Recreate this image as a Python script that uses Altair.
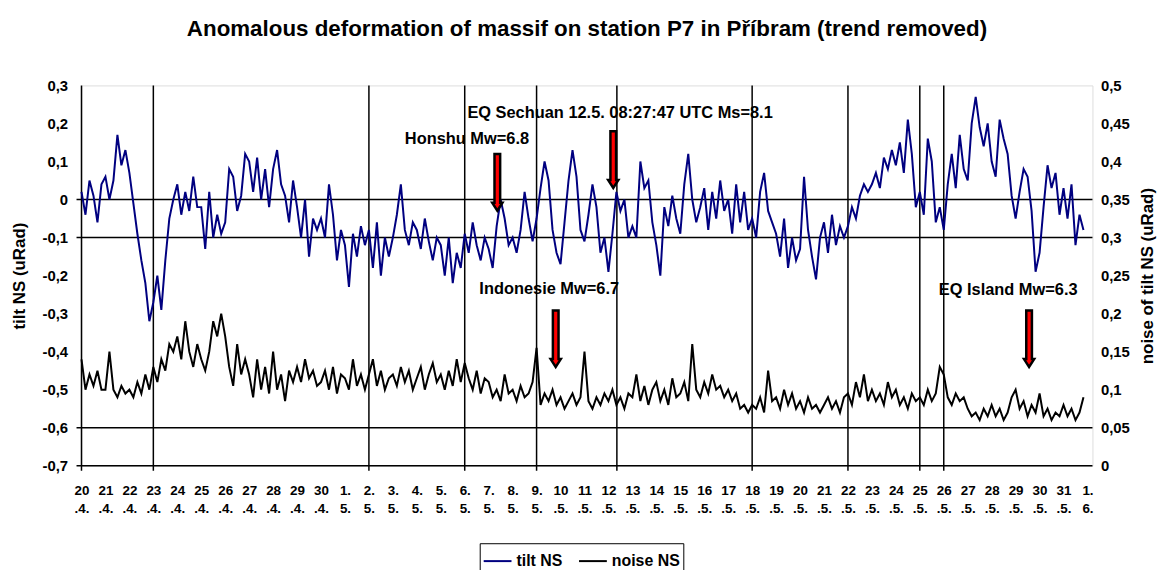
import altair as alt
import pandas as pd

FONT = "Liberation Sans"
TITLE = "Anomalous deformation of massif on station P7 in Příbram (trend removed)"
START = "2008-04-20 00:00:00"   # first sample, one sample every 4 hours
STEP = "4h"

# tilt NS (uRad), six readings per day, 20.4. .. 31.5.
TILT_NS = [
    0.02, -0.04, 0.05, 0.01, -0.06, 0.04,      # 20.4
    0.06, 0.00, 0.05, 0.17, 0.09, 0.13,        # 21.4
    0.07, -0.01, -0.09, -0.16, -0.22, -0.32,   # 22.4
    -0.27, -0.20, -0.29, -0.16, -0.05, 0.00,   # 23.4
    0.04, -0.04, 0.02, -0.03, 0.06, -0.02,     # 24.4
    -0.02, -0.13, 0.02, -0.10, -0.04, -0.09,   # 25.4
    -0.06, 0.08, 0.06, -0.03, 0.01, 0.12,      # 26.4
    0.10, 0.02, 0.11, 0.00, 0.08, -0.02,       # 27.4
    0.08, 0.13, 0.04, 0.01, -0.06, 0.05,       # 28.4
    -0.02, -0.10, 0.00, -0.15, -0.05, -0.08,   # 29.4
    -0.05, -0.10, 0.04, -0.04, -0.16, -0.08,   # 30.4
    -0.12, -0.23, -0.09, -0.15, -0.07, -0.12,  # 1.5
    -0.08, -0.18, -0.06, -0.20, -0.10, -0.15,  # 2.5
    -0.10, -0.04, 0.04, -0.08, -0.12, -0.06,   # 3.5
    -0.08, -0.13, -0.05, -0.11, -0.16, -0.10,  # 4.5
    -0.12, -0.20, -0.10, -0.22, -0.14, -0.18,  # 5.5
    -0.09, -0.14, -0.06, -0.12, -0.16, -0.10,  # 6.5
    -0.13, -0.18, -0.07, 0.00, -0.05, -0.12,   # 7.5
    -0.10, -0.14, -0.08, 0.02, -0.05, -0.11,   # 8.5
    -0.05, 0.03, 0.10, 0.05, -0.08, -0.14,     # 9.5
    -0.17, -0.06, 0.05, 0.13, 0.06, -0.08,     # 10.5
    -0.11, -0.04, 0.04, -0.02, -0.14, -0.10,   # 11.5
    -0.19, -0.09, 0.02, -0.03, 0.00, -0.10,    # 12.5
    -0.07, -0.10, 0.10, 0.03, 0.05, -0.06,     # 13.5
    -0.12, -0.20, -0.02, -0.07, 0.01, -0.05,   # 14.5
    -0.09, 0.04, 0.12, 0.00, -0.06, -0.02,     # 15.5
    0.03, -0.08, 0.02, -0.05, 0.05, -0.03,     # 16.5
    0.00, -0.09, 0.04, -0.06, 0.02, -0.08,     # 17.5
    -0.05, -0.10, 0.02, 0.07, -0.03, -0.06,    # 18.5
    -0.09, -0.15, -0.05, -0.18, -0.10, -0.16,  # 19.5
    -0.13, 0.06, -0.08, -0.15, -0.21, -0.10,   # 20.5
    -0.06, -0.14, -0.04, -0.12, -0.07, -0.10,  # 21.5
    -0.07, -0.02, -0.05, 0.01, 0.04, 0.02,     # 22.5
    0.04, 0.07, 0.03, 0.11, 0.08, 0.13,        # 23.5
    0.09, 0.15, 0.07, 0.21, 0.12, -0.02,       # 24.5
    0.02, -0.04, 0.16, 0.10, -0.06, -0.02,     # 25.5
    -0.08, 0.04, 0.12, 0.03, 0.17, 0.08,       # 26.5
    0.05, 0.20, 0.27, 0.19, 0.14, 0.20,        # 27.5
    0.10, 0.06, 0.21, 0.16, 0.12, 0.01,        # 28.5
    -0.05, 0.02, 0.08, 0.06, -0.03, -0.19,     # 29.5
    -0.14, -0.02, 0.09, 0.03, 0.07, -0.04,     # 30.5
    0.03, -0.05, 0.04, -0.12, -0.04, -0.08,    # 31.5
]

# noise of tilt NS (uRad), six readings per day
NOISE_NS = [
    0.14, 0.10, 0.12, 0.105, 0.125, 0.10,      # 20.4
    0.10, 0.15, 0.10, 0.09, 0.105, 0.095,      # 21.4
    0.10, 0.09, 0.11, 0.095, 0.12, 0.10,       # 22.4
    0.13, 0.11, 0.14, 0.125, 0.16, 0.15,       # 23.4
    0.17, 0.14, 0.19, 0.15, 0.13, 0.16,        # 24.4
    0.14, 0.125, 0.15, 0.19, 0.17, 0.20,       # 25.4
    0.17, 0.13, 0.105, 0.16, 0.12, 0.14,       # 26.4
    0.12, 0.09, 0.14, 0.10, 0.13, 0.095,       # 27.4
    0.15, 0.10, 0.12, 0.085, 0.125, 0.11,      # 28.4
    0.13, 0.11, 0.14, 0.115, 0.125, 0.105,     # 29.4
    0.11, 0.125, 0.10, 0.13, 0.095, 0.12,      # 30.4
    0.115, 0.10, 0.14, 0.105, 0.12, 0.10,      # 1.5
    0.12, 0.14, 0.105, 0.125, 0.10, 0.115,     # 2.5
    0.12, 0.105, 0.13, 0.11, 0.125, 0.10,      # 3.5
    0.115, 0.13, 0.10, 0.12, 0.135, 0.11,      # 4.5
    0.12, 0.10, 0.125, 0.105, 0.14, 0.11,      # 5.5
    0.135, 0.115, 0.10, 0.125, 0.095, 0.115,   # 6.5
    0.11, 0.09, 0.10, 0.085, 0.12, 0.095,      # 7.5
    0.10, 0.085, 0.105, 0.09, 0.095, 0.11,     # 8.5
    0.155, 0.08, 0.095, 0.085, 0.10, 0.08,     # 9.5
    0.09, 0.075, 0.085, 0.095, 0.08, 0.09,     # 10.5
    0.15, 0.085, 0.075, 0.09, 0.08, 0.095,     # 11.5
    0.085, 0.10, 0.08, 0.09, 0.075, 0.095,     # 12.5
    0.09, 0.12, 0.085, 0.105, 0.08, 0.10,      # 13.5
    0.11, 0.085, 0.10, 0.08, 0.115, 0.09,      # 14.5
    0.095, 0.11, 0.085, 0.16, 0.10, 0.09,      # 15.5
    0.11, 0.095, 0.12, 0.10, 0.105, 0.09,      # 16.5
    0.10, 0.085, 0.095, 0.075, 0.08, 0.07,     # 17.5
    0.08, 0.075, 0.09, 0.07, 0.125, 0.085,     # 18.5
    0.09, 0.075, 0.10, 0.08, 0.095, 0.075,     # 19.5
    0.085, 0.07, 0.09, 0.075, 0.08, 0.07,      # 20.5
    0.08, 0.09, 0.075, 0.085, 0.07, 0.09,      # 21.5
    0.095, 0.08, 0.11, 0.09, 0.12, 0.085,      # 22.5
    0.10, 0.085, 0.095, 0.08, 0.11, 0.09,      # 23.5
    0.10, 0.08, 0.09, 0.075, 0.095, 0.085,     # 24.5
    0.09, 0.08, 0.10, 0.085, 0.095, 0.13,      # 25.5
    0.12, 0.09, 0.08, 0.095, 0.085, 0.09,      # 26.5
    0.075, 0.065, 0.07, 0.06, 0.075, 0.065,    # 27.5
    0.08, 0.065, 0.075, 0.06, 0.07, 0.09,      # 28.5
    0.10, 0.075, 0.085, 0.065, 0.08, 0.07,     # 29.5
    0.095, 0.065, 0.075, 0.06, 0.07, 0.065,    # 30.5
    0.08, 0.065, 0.075, 0.06, 0.07, 0.09,      # 31.5
]

SERIES = ["tilt NS", "noise NS"]
SERIES_COLORS = ["#000080", "#000000"]

LEFT_TICKS = [0.3, 0.2, 0.1, 0.0, -0.1, -0.2, -0.3, -0.4, -0.5, -0.6, -0.7]
RIGHT_TICKS = [0.5, 0.45, 0.4, 0.35, 0.3, 0.25, 0.2, 0.15, 0.1, 0.05, 0.0]
H_LINES = [0.0, -0.1, -0.6, -0.7]
EVENT_LINES = ["2008-04-20 00:00:00", "2008-04-23 00:00:00", "2008-05-02 00:00:00",
               "2008-05-06 00:00:00", "2008-05-09 00:00:00", "2008-05-12 08:27:47",
               "2008-05-18 00:00:00", "2008-05-22 00:00:00", "2008-05-25 00:00:00",
               "2008-05-26 00:00:00"]

ARROW_TIMES = ["2008-05-07 08:40:00", "2008-05-12 04:50:00", "2008-05-09 19:10:00",
               "2008-05-29 13:30:00"]
ARROW_CENTERS = [0.045, 0.105, -0.366, -0.366]

NOTE_TEXTS = ["EQ Sechuan 12.5. 08:27:47 UTC Ms=8.1", "Honshu Mw=6.8",
              "Indonesie Mw=6.7", "EQ Island Mw=6.3"]
NOTE_TIMES = ["2008-05-06 02:40:00", "2008-05-03 12:00:00", "2008-05-06 14:40:00",
              "2008-05-25 19:00:00"]
NOTE_VALUES = [0.227, 0.159, -0.235, -0.238]

# ---------------------------------------------------------------- tables
FMT = "%Y-%m-%d %H:%M:%S"
times = pd.date_range(START, periods=len(TILT_NS), freq=STEP)
tilt_df = pd.DataFrame({"time": times, "tilt": TILT_NS, "series": SERIES[0]})
noise_df = pd.DataFrame({"time": pd.date_range(START, periods=len(NOISE_NS), freq=STEP),
                         "noise": NOISE_NS, "series": SERIES[1]})
hline_df = pd.DataFrame({"v": H_LINES})
vline_df = pd.DataFrame({"time": pd.to_datetime(EVENT_LINES, format=FMT)})
arrow_df = pd.DataFrame({"time": pd.to_datetime(ARROW_TIMES, format=FMT), "v": ARROW_CENTERS})
note_df = pd.DataFrame({"time": pd.to_datetime(NOTE_TIMES, format=FMT), "v": NOTE_VALUES,
                        "label": NOTE_TEXTS})

W, H = 1018, 383

x_scale = alt.Scale(domain=[alt.DateTime(year=2008, month=4, date=20),
                            alt.DateTime(year=2008, month=6, date=1, hours=5)])
label_str = "(date(datum.value) + '.' + (month(datum.value) + 1) + '.')"
x_axis = alt.Axis(
    title=None, domain=False, ticks=False, grid=False,
    tickCount={"interval": "day", "step": 1},
    labelExpr=f"[substring({label_str}, 0, 2), substring({label_str}, 2)]",
    labelFont=FONT, labelFontSize=13.5, labelFontWeight="bold", labelColor="black",
    labelLineHeight=18, labelPadding=18, labelOverlap=False, labelFlush=False,
    labelBound=False, labelBaseline="top", labelAlign="center",
)


def X(field):
    return alt.X(f"{field}:T", scale=x_scale, axis=x_axis)


left_scale = alt.Scale(domain=[-0.7, 0.3], nice=False, zero=False)
left_axis = alt.Axis(
    title="tilt NS (uRad)", orient="left", values=LEFT_TICKS,
    labelExpr="datum.value == 0 ? '0' : replace(replace(format(datum.value, '.1f'), '\u2212', '-'), '.', ',')",
    domain=False, ticks=False, grid=False,
    labelFont=FONT, labelFontSize=15, labelFontWeight="bold", labelColor="black",
    labelPadding=14,
    titleFont=FONT, titleFontSize=17, titleFontWeight="bold", titleColor="black",
    titleAngle=270, titleX=-62, titleY=H / 2, titleAlign="center", titleBaseline="middle",
)
right_scale = alt.Scale(domain=[0, 0.5], nice=False, zero=False)
right_axis = alt.Axis(
    title="noise of tilt NS (uRad)", orient="right", values=RIGHT_TICKS,
    labelExpr="replace(format(datum.value, '~g'), '.', ',')",
    domain=False, ticks=False, grid=False,
    labelFont=FONT, labelFontSize=15, labelFontWeight="bold", labelColor="black",
    labelPadding=8,
    titleFont=FONT, titleFontSize=17, titleFontWeight="bold", titleColor="black",
    titleAngle=270, titleX=55, titleY=H / 2, titleAlign="center", titleBaseline="middle",
)


def YL(field):
    return alt.Y(f"{field}:Q", scale=left_scale, axis=left_axis)


legend = alt.Legend(
    title=None, orient="none", legendX=401, legendY=461, direction="horizontal",
    strokeColor="black", fillColor="white", padding=3,
    symbolType="stroke", symbolSize=784, symbolStrokeWidth=2,
    labelFont=FONT, labelFontSize=16, labelFontWeight="bold", labelColor="black",
    labelOffset=4, columnPadding=12,
)
color = alt.Color("series:N", scale=alt.Scale(domain=SERIES, range=SERIES_COLORS), legend=legend)

hrules = alt.Chart(hline_df).mark_rule(color="black", strokeWidth=1.5).encode(
    y=YL("v"), x=alt.value(-5), x2=alt.value(W))
vrules = alt.Chart(vline_df).mark_rule(color="black", strokeWidth=1.5).encode(
    x=X("time"), y=alt.value(0), y2=alt.value(H + 5))
tilt = alt.Chart(tilt_df).mark_line(strokeWidth=2).encode(
    x=X("time"), y=YL("tilt"), color=color)

left_group = alt.layer(hrules, vrules, tilt)

noise = alt.Chart(noise_df).mark_line(strokeWidth=2).encode(
    x=X("time"), y=alt.Y("noise:Q", scale=right_scale, axis=right_axis), color=color)

top_scale = alt.Scale(domain=[-0.7, 0.3], nice=False, zero=False)
ARROW_PATH = "M -0.1 -1 L 0.1 -1 L 0.1 0.72 L 0.18 0.72 L 0 1 L -0.18 0.72 L -0.1 0.72 Z"
arrows = alt.Chart(arrow_df).mark_point(
    shape=ARROW_PATH, filled=True, fill="#ff0000", stroke="black", strokeWidth=2.5,
    size=3250, opacity=1).encode(
    x=X("time"), y=alt.Y("v:Q", scale=top_scale, axis=None))
notes = alt.Chart(note_df).mark_text(
    align="left", baseline="middle", font=FONT, fontSize=16.5, fontWeight="bold",
    color="black").encode(
    x=X("time"), y=alt.Y("v:Q", scale=top_scale, axis=None), text="label:N")
top_group = alt.layer(arrows, notes)

chart = alt.layer(left_group, noise, top_group).resolve_scale(
    y="independent"
).properties(
    width=W, height=H,
    title=alt.TitleParams(TITLE, font=FONT, fontSize=22.5, fontWeight="bold",
                          anchor="middle", offset=38, color="black"),
    autosize=alt.AutoSizeParams(type="none"),
    padding={"left": 74, "top": 76, "right": 67, "bottom": 103},
).configure_view(stroke=None).configure(background="white")

chart.save("out.html", embed_options={"renderer": "svg", "actions": False})
